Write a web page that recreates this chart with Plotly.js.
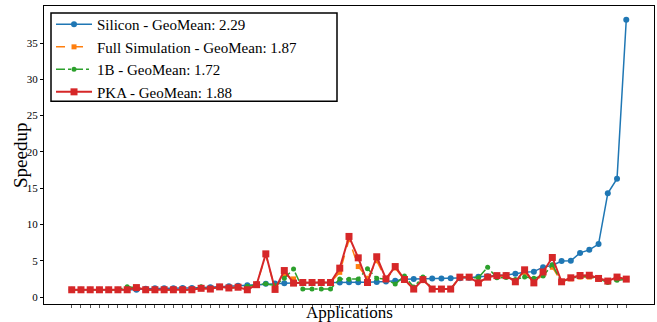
<!DOCTYPE html>
<html>
<head>
<meta charset="utf-8">
<script src="https://cdn.plot.ly/plotly-3.0.1.min.js"></script>
<style>
html,body{margin:0;padding:0;background:#fff;}
#chart{width:657px;height:322px;}
</style>
</head>
<body>
<div id="chart"></div>
<script>
const apps = Array.from({length: 61}, (_, i) => i);

const silicon = [1.0,1.0,1.0,1.0,1.0,1.0,1.05,1.0,1.15,1.2,1.2,1.22,1.25,1.25,1.28,1.35,1.4,1.47,1.55,1.63,
  1.75,1.83,1.88,1.9,1.92,1.95,1.97,1.98,2.0,2.0,2.02,2.03,2.05,2.07,2.15,2.24,2.45,2.5,2.52,2.55,
  2.57,2.58,2.6,2.65,2.8,2.85,2.92,3.05,3.2,3.42,3.5,4.12,4.35,4.95,5.0,6.08,6.5,7.3,14.3,16.3,38.2];

const fullSim = [1.0,1.0,1.0,1.0,1.0,1.0,1.0,1.35,1.0,1.0,1.0,1.0,1.0,1.0,1.2,1.1,1.4,1.25,1.35,1.0,
  1.7,5.8,1.05,3.1,2.5,2.0,2.0,2.0,2.0,3.4,7.9,4.2,2.6,5.0,2.4,4.0,2.35,1.1,2.38,1.1,
  1.1,1.1,2.74,2.74,1.95,2.74,2.9,2.9,2.2,3.4,1.95,3.1,4.1,2.1,2.5,2.75,2.75,2.5,2.2,2.6,2.45];

const oneB = [1.0,1.0,1.0,1.0,1.0,1.0,1.4,1.3,1.0,1.0,1.0,1.0,1.0,1.0,1.4,1.1,1.4,1.25,1.35,1.47,
  1.7,1.82,1.6,2.6,3.85,1.1,1.1,1.1,1.1,2.5,2.46,2.5,3.9,2.6,2.46,1.78,2.9,1.37,2.75,1.1,
  1.1,1.1,2.74,2.74,2.65,4.1,2.65,2.7,2.4,2.75,2.6,2.9,4.45,2.1,2.6,2.8,2.85,2.5,2.0,2.3,2.45];

const pka = [1.0,1.0,1.0,1.0,1.0,1.0,1.0,1.3,1.0,1.0,1.0,1.0,1.0,1.0,1.2,1.1,1.4,1.25,1.35,1.0,
  1.7,5.95,1.05,3.65,1.92,2.0,2.0,2.0,2.0,3.98,8.35,5.4,2.0,5.55,2.5,4.2,2.42,1.1,2.4,1.1,
  1.1,1.1,2.74,2.74,1.95,2.74,2.95,2.95,2.1,3.75,1.95,3.45,5.45,2.1,2.65,2.97,3.0,2.56,2.2,2.75,2.47];

const names = [
  'Silicon - GeoMean: 2.29',
  'Full Simulation - GeoMean: 1.87',
  '1B - GeoMean: 1.72',
  'PKA - GeoMean: 1.88'
];

const FONT = '"Liberation Serif", "DejaVu Serif", serif';

const traces = [
  {x: apps, y: silicon, name: names[0], type: 'scatter', mode: 'lines+markers',
   line: {color: '#1f77b4', width: 1.5}, marker: {color: '#1f77b4', symbol: 'circle', size: 6}},
  {x: apps, y: fullSim, name: names[1], type: 'scatter', mode: 'lines+markers',
   line: {color: '#ff7f0e', width: 1.5, dash: 'dash'}, marker: {color: '#ff7f0e', symbol: 'square', size: 5}},
  {x: apps, y: oneB, name: names[2], type: 'scatter', mode: 'lines+markers',
   line: {color: '#2ca02c', width: 1.5, dash: 'dashdot'}, marker: {color: '#2ca02c', symbol: 'circle', size: 5}},
  {x: apps, y: pka, name: names[3], type: 'scatter', mode: 'lines+markers',
   line: {color: '#d62728', width: 2}, marker: {color: '#d62728', symbol: 'square', size: 7}}
];

const layout = {
  width: 657, height: 322,
  margin: {l: 44, r: 3, t: 6, b: 18, pad: 0},
  paper_bgcolor: '#fff', plot_bgcolor: '#fff',
  font: {family: FONT, color: '#000', size: 11},
  showlegend: true,
  legend: {
    x: 0.0115, y: 0.993, xanchor: 'left', yanchor: 'top',
    bgcolor: 'rgba(0,0,0,0)', borderwidth: 0,
    font: {family: FONT, size: 15, color: '#000'},
    itemwidth: 36,
    tracegroupgap: 0
  },
  shapes: [{
    type: 'rect', xref: 'paper', yref: 'paper',
    x0: (51-44)/610, x1: (337-44)/610, y0: 1-(101-6)/297.5, y1: 1-(13-6)/297.5,
    line: {color: '#000', width: 1.5}, fillcolor: 'rgba(255,255,255,0.8)', layer: 'below'
  }],
  annotations: [
    {text: 'Speedup', xref: 'paper', yref: 'paper', x: (20-44)/610, y: 0.5,
     xanchor: 'center', yanchor: 'middle', textangle: -90, showarrow: false,
     font: {family: FONT, size: 19, color: '#000'}},
    {text: 'Applications', xref: 'paper', yref: 'paper', x: 0.5, y: -(311.5-303.5)/297.5,
     xanchor: 'center', yanchor: 'middle', showarrow: false,
     font: {family: FONT, size: 17, color: '#000'}}
  ],
  xaxis: {
    range: [-3, 63],
    tickvals: apps, showticklabels: false,
    ticks: 'outside', ticklen: 3, tickcolor: '#555', tickwidth: 1,
    showgrid: false, zeroline: false,
    showline: true, mirror: true, linecolor: '#000', linewidth: 1
  },
  yaxis: {
    range: [-0.96, 40.1],
    tickvals: [0,5,10,15,20,25,30,35],
    ticks: 'outside', ticklen: 3, tickcolor: '#000', tickwidth: 1,
    tickfont: {family: FONT, size: 11, color: '#000'},
    showgrid: false, zeroline: false,
    showline: true, mirror: true, linecolor: '#000', linewidth: 1
  }
};

Plotly.newPlot('chart', traces, layout, {displayModeBar: false, staticPlot: true});
</script>
</body>
</html>
